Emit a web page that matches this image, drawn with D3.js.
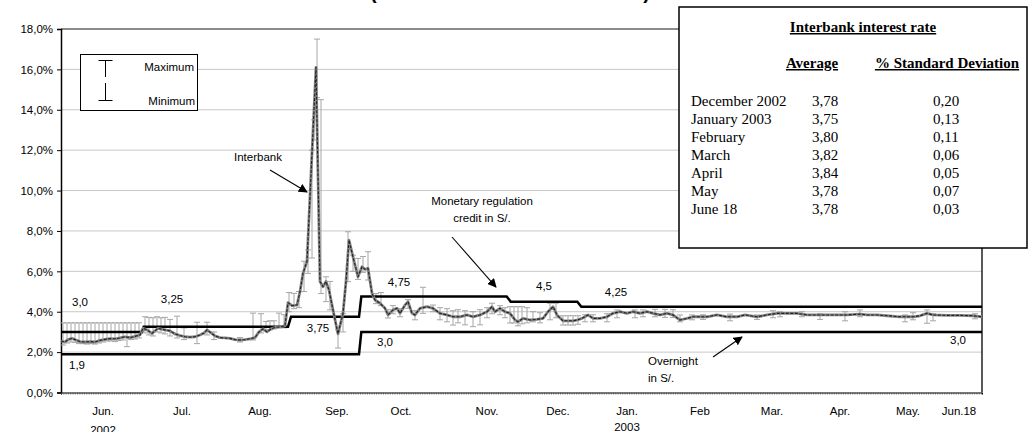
<!DOCTYPE html>
<html><head><meta charset="utf-8">
<script src="https://cdn.jsdelivr.net/npm/d3@7"></script>
<style>body{margin:0;background:#fff}svg{display:block}</style>
</head><body>
<svg id="chart" width="1032" height="432"></svg>
<script>
// ---------- DATA (x in trading-day index, y in %) ----------
const yTickValues = [0,2,4,6,8,10,12,14,16,18];
const monthLabels = ["Jun.","Jul.","Aug.","Sep.","Oct.","Nov.","Dec.","Jan.","Feb","Mar.","Apr.","May.","Jun.18"];
const monthLabelDays = [12.6,36.3,59.7,82.8,102.0,127.8,149.1,169.8,191.7,213.3,233.7,254.1,269.4];
const yearLabels = ["2002","2003"];
const yearLabelDays = [12.6,169.8];

const avgDays = [0,1.2,2.1,3.3,4.5,5.7,7.2,8.7,10.2,11.7,13.2,14.7,16.2,17.7,19.2,20.7,22.2,23.7,24.6,25.8,27.3,29.1,31.2,32.7,34.2,35.7,37.2,38.7,40.2,41.7,42.9,43.8,45.0,46.2,47.7,49.2,50.7,52.2,53.7,55.2,56.7,58.2,59.4,60.6,61.8,63.0,64.2,65.7,67.2,68.1,69.3,70.8,71.7,72.6,73.8,75.0,76.5,77.7,78.6,79.5,80.4,81.6,83.1,84.6,85.5,86.4,87.6,89.1,90.3,91.2,92.1,93.3,94.2,95.7,97.2,98.1,99.6,100.8,101.7,103.2,104.1,105.3,106.2,107.7,109.8,111.6,113.7,115.8,117.6,119.7,121.8,123.6,125.7,127.8,129.3,130.2,131.7,133.2,134.7,136.2,137.1,138.6,140.7,142.8,144.6,146.1,147.6,148.8,150.6,152.1,153.6,155.1,156.3,158.1,159.6,161.7,163.8,165.6,167.7,169.8,171.6,173.7,175.8,177.6,179.7,181.8,183.6,185.7,187.8,189.6,191.7,193.8,196.8,199.8,202.8,205.2,208.8,211.8,214.8,217.8,220.8,223.8,226.8,229.8,232.8,235.8,239.7,241.8,244.8,247.8,251.7,255.6,257.7,259.8,261.6,265.8,269.7,273.6,276.3];
const avgRates = [2.55,2.5,2.62,2.68,2.6,2.52,2.5,2.52,2.5,2.58,2.63,2.67,2.66,2.7,2.76,2.72,2.78,2.85,3.18,3.1,2.93,3.18,3.1,3.05,2.9,2.82,2.76,2.74,2.76,2.85,2.95,3.1,2.95,2.8,2.72,2.7,2.68,2.62,2.6,2.62,2.66,2.72,3.0,3.15,3.0,3.15,3.22,3.25,3.3,4.45,4.3,4.33,5.0,5.9,6.5,10.8,16.1,5.5,5.24,5.5,5.08,4.09,2.9,3.92,5.5,7.55,6.72,5.73,6.23,6.1,6.15,4.91,4.58,4.42,4.17,3.84,4.09,4.17,3.92,4.33,4.5,3.92,3.84,4.17,4.25,4.17,3.92,3.84,3.75,3.75,3.84,3.75,3.84,4.0,4.25,4.0,4.17,4.0,3.92,3.6,3.5,3.67,3.59,3.62,3.67,4.0,4.25,3.84,3.55,3.55,3.55,3.6,3.67,3.84,3.67,3.67,3.75,3.92,4.0,3.92,4.0,3.92,4.0,3.92,3.84,3.92,3.84,3.59,3.67,3.75,3.75,3.75,3.84,3.75,3.75,3.84,3.75,3.84,3.92,3.92,3.92,3.84,3.84,3.84,3.84,3.84,3.88,3.84,3.84,3.8,3.75,3.75,3.8,3.92,3.84,3.82,3.82,3.8,3.75];

const barDays = [0.6,1.8,3.0,4.2,5.4,6.6,7.8,9.0,10.2,11.4,12.6,13.8,15.0,16.2,17.4,18.6,19.8,21.0,22.2,23.4,25.2,26.4,27.6,28.8,30.0,31.2,32.7,34.8,36.9,40.8,43.8,45.9,53.7,57.6,60.0,61.5,62.7,63.9,65.4,66.9,68.4,69.9,71.4,72.9,74.1,75.3,75.9,76.8,78.0,79.5,80.7,83.1,84.6,86.1,87.6,89.1,90.6,92.1,94.5,96.0,98.1,99.6,101.7,104.1,106.2,108.6,111.6,113.7,115.8,117.6,119.1,121.2,123.6,125.7,127.8,129.3,131.7,133.2,134.7,135.9,137.1,138.3,139.8,141.6,143.7,146.7,148.5,150.6,152.1,153.6,155.1,157.2,159.6,163.8,166.8,172.2,174.6,178.2,181.2,183.6,185.7,189.3,192.6,200.7,208.8,213.6,215.7,222.3,227.7,235.2,239.7,253.2,255.6,259.8,261.6,274.2];
const barMax = [3.45,3.45,3.45,3.45,3.45,3.45,3.45,3.45,3.45,3.45,3.45,3.45,3.45,3.45,3.45,3.45,3.45,3.45,3.45,3.45,3.75,3.72,3.7,3.75,3.7,3.72,3.62,3.78,3.2,3.48,3.48,3.0,2.72,3.93,3.9,3.52,3.55,3.55,3.93,3.85,4.95,4.91,5.0,6.5,7.06,12.0,13.5,17.5,14.5,5.73,5.5,3.1,3.9,7.96,6.8,6.64,6.73,6.97,4.9,4.95,4.1,4.3,4.15,4.6,4.05,5.21,4.33,4.2,4.15,4.05,4.1,4.05,4.0,4.1,4.2,4.42,4.3,4.2,4.25,4.25,4.25,4.25,4.2,4.0,3.95,4.42,4.42,3.8,3.8,3.8,3.8,3.85,3.85,3.9,4.09,4.09,4.09,4.12,4.12,4.1,3.84,3.84,3.85,3.88,3.84,4.05,4.0,4.0,3.9,4.0,4.09,3.84,3.95,4.09,3.9,3.9];
const barMin = [2.35,2.45,2.5,2.48,2.42,2.42,2.4,2.42,2.4,2.45,2.5,2.55,2.55,2.52,2.58,2.6,2.27,2.62,2.65,2.7,2.95,2.85,2.8,3.0,2.95,2.9,2.8,2.7,2.62,2.42,2.85,2.62,2.5,2.6,2.95,3.05,3.1,3.15,3.2,3.2,4.0,4.15,4.2,5.0,5.9,6.66,12.5,14.6,4.9,4.5,4.09,2.2,3.0,5.49,6.0,5.6,5.95,5.57,4.4,4.3,3.69,3.9,3.75,4.17,3.6,3.92,4.0,3.6,3.5,3.34,3.45,3.35,3.26,3.35,3.7,3.9,3.85,3.7,3.44,3.44,3.3,3.4,3.45,3.5,3.45,3.6,3.7,3.34,3.34,3.34,3.38,3.5,3.5,3.5,3.7,3.7,3.75,3.75,3.72,3.72,3.5,3.6,3.62,3.55,3.62,3.7,3.75,3.75,3.62,3.55,3.75,3.5,3.6,3.43,3.55,3.65];

const creditDays  = [0,24.3,24.8,68.1,69.0,89.4,90.1,133.7,134.9,154.9,156.1,276.3];
const creditRates = [3.0,3.0,3.25,3.25,3.75,3.75,4.75,4.75,4.5,4.5,4.25,4.25];
const overnightDays  = [0,89.4,90.1,276.3];
const overnightRates = [1.9,1.9,3.0,3.0];

const rateLabels = ["3,0","3,25","3,75","4,75","4,5","4,25","3,0","1,9","3,0"];
const rateLabelDays = [5.7,33.3,77.1,101.4,144.9,166.5,97.2,4.8,269.1];
const rateLabelRates = [4.48,4.63,3.19,5.47,5.27,4.98,2.5,1.36,2.6];

const tableTitle = "Interbank interest rate";
const tableHeads = ["Average","% Standard Deviation"];
const tableMonths = ["December 2002","January 2003","February","March","April","May","June 18"];
const tableAvg = ["3,78","3,75","3,80","3,82","3,84","3,78","3,78"];
const tableSd = ["0,20","0,13","0,11","0,06","0,05","0,07","0,03"];

// ---------- DRAWING ----------
const svg = d3.select("#chart");
const SANS = "'Liberation Sans', Arial, sans-serif";
const SERIF = "'Liberation Serif', 'Times New Roman', serif";
const x = d3.scaleLinear().domain([0, 276.3]).range([61, 982]);
const y = d3.scaleLinear().domain([0, 18]).range([392.5, 29]);

svg.append("defs").append("marker")
  .attr("id","arr").attr("viewBox","0 0 10 10").attr("refX",9).attr("refY",5)
  .attr("markerWidth",9).attr("markerHeight",9).attr("orient","auto-start-reverse")
  .attr("markerUnits","userSpaceOnUse")
  .append("path").attr("d","M0,0L10,5L0,10z").attr("fill","#000");

// title, clipped at the top edge as in the source picture
svg.append("text").attr("x", 510).attr("y", -1.5)
  .attr("text-anchor","middle").attr("font-family",SANS).attr("font-weight","bold")
  .attr("font-size",20).attr("textLength",280).attr("lengthAdjust","spacing")
  .text("(June 2002 - June 18 2003)");

// grid
svg.append("g").selectAll("line").data(yTickValues.filter(d=>d>0 && d<18)).join("line")
  .attr("x1",x(0)).attr("x2",x(276.3)).attr("y1",d=>y(d)).attr("y2",d=>y(d))
  .attr("stroke","#c8c8c8").attr("stroke-width",1);
// top border
svg.append("line").attr("x1",x(0)).attr("x2",x(276.3)).attr("y1",y(18)).attr("y2",y(18))
  .attr("stroke","#666").attr("stroke-width",1.3);
// right border
svg.append("line").attr("x1",x(276.3)).attr("x2",x(276.3)).attr("y1",y(18)).attr("y2",y(0))
  .attr("stroke","#000").attr("stroke-width",1.3);

// y axis
const yAxis = d3.axisLeft(y).tickValues(yTickValues).tickSize(4).tickPadding(4)
  .tickFormat(d => d3.format(".1f")(d).replace(".",",") + "%");
const gy = svg.append("g").attr("transform",`translate(${x(0)},0)`).call(yAxis);
gy.select(".domain").attr("stroke","#000").attr("stroke-width",1.5);
gy.selectAll(".tick line").attr("stroke","#000");
gy.selectAll(".tick text").attr("font-family",SANS).attr("font-size",11.5).attr("fill","#000");

// x axis with dense daily ticks
const xAxis = d3.axisBottom(x).tickValues(d3.range(0, 276.31, 0.69)).tickSize(2).tickFormat("");
const gx = svg.append("g").attr("transform",`translate(0,${y(0)})`).call(xAxis);
gx.select(".domain").attr("stroke","#000").attr("stroke-width",1);
gx.selectAll(".tick line").attr("stroke","#444").attr("stroke-width",0.7);

svg.append("g").selectAll("text").data(monthLabels).join("text")
  .attr("x",(d,i)=>x(monthLabelDays[i])).attr("y",415)
  .attr("text-anchor","middle").attr("font-family",SANS).attr("font-size",11.5).attr("fill","#000")
  .text(d=>d);
svg.append("g").selectAll("text").data(yearLabels).join("text")
  .attr("x",(d,i)=>x(yearLabelDays[i])).attr("y",(d,i)=> i===0 ? 434 : 431)
  .attr("text-anchor","middle").attr("font-family",SANS).attr("font-size",11.5).attr("fill","#000")
  .text(d=>d);

// error bars
const eb = svg.append("g").attr("stroke","#a6a6a6").attr("stroke-width",1).attr("fill","none");
barDays.forEach((d,i)=>{
  const cx = x(d);
  eb.append("line").attr("x1",cx).attr("x2",cx).attr("y1",y(barMax[i])).attr("y2",y(barMin[i]));
  eb.append("line").attr("x1",cx-3).attr("x2",cx+3).attr("y1",y(barMax[i])).attr("y2",y(barMax[i]));
  eb.append("line").attr("x1",cx-3).attr("x2",cx+3).attr("y1",y(barMin[i])).attr("y2",y(barMin[i]));
});

// corridor lines
const lineGen = d3.line().x(d=>x(d[0])).y(d=>y(d[1]));
svg.append("path").datum(creditDays.map((d,i)=>[d,creditRates[i]]))
  .attr("d",lineGen).attr("fill","none").attr("stroke","#000").attr("stroke-width",2.5);
svg.append("path").datum(overnightDays.map((d,i)=>[d,overnightRates[i]]))
  .attr("d",lineGen).attr("fill","none").attr("stroke","#000").attr("stroke-width",2.5);

// interbank average line
const avgData = avgDays.map((d,i)=>[d,avgRates[i]]);
svg.append("path").datum(avgData).attr("d",lineGen).attr("fill","none")
  .attr("stroke","#858585").attr("stroke-width",2.8).attr("stroke-linejoin","round");
svg.append("path").datum(avgData).attr("d",lineGen).attr("fill","none")
  .attr("stroke","#222").attr("stroke-width",1.1).attr("stroke-dasharray","3,1.5").attr("stroke-linejoin","round");

// rate labels
svg.append("g").selectAll("text").data(rateLabels).join("text")
  .attr("x",(d,i)=>x(rateLabelDays[i])).attr("y",(d,i)=>y(rateLabelRates[i]))
  .attr("dy","0.35em").attr("text-anchor","middle").attr("font-family",SANS)
  .attr("font-size",11.5).attr("fill","#000").text(d=>d);

// annotations
function note(lines, day, rate, anchor){
  const t = svg.append("text").attr("font-family",SANS).attr("font-size",11.5).attr("fill","#000")
    .attr("text-anchor",anchor);
  lines.forEach((l,i)=> t.append("tspan").attr("x",x(day)).attr("y",y(rate)+i*17).attr("dy","0.35em").text(l));
}
function arrow(d0,r0,d1,r1){
  svg.append("line").attr("x1",x(d0)).attr("y1",y(r0)).attr("x2",x(d1)).attr("y2",y(r1))
    .attr("stroke","#000").attr("stroke-width",1.1).attr("marker-end","url(#arr)");
}
note(["Interbank"], 59.1, 11.67, "middle");
arrow(62.7, 11.02, 73.8, 9.93);
note(["Monetary regulation","credit in S/."], 126.3, 9.48, "middle");
arrow(117.3, 7.70, 130.5, 5.22);
note(["Overnight","in S/."], 176.1, 1.56, "start");
arrow(195.6, 1.76, 204.3, 2.75);

// legend box
const lg = svg.append("g");
lg.append("rect").attr("x",80.5).attr("y",54.5).attr("width",117).attr("height",56)
  .attr("fill","#fff").attr("stroke","#000").attr("stroke-width",1);
const lx = 105.5;
lg.append("line").attr("x1",lx).attr("x2",lx).attr("y1",60.5).attr("y2",77).attr("stroke","#000");
lg.append("line").attr("x1",lx-7).attr("x2",lx+7).attr("y1",60.5).attr("y2",60.5).attr("stroke","#000");
lg.append("line").attr("x1",lx).attr("x2",lx).attr("y1",83).attr("y2",100.5).attr("stroke","#000");
lg.append("line").attr("x1",lx-7).attr("x2",lx+7).attr("y1",100.5).attr("y2",100.5).attr("stroke","#000");
lg.append("text").attr("x",194).attr("y",71).attr("text-anchor","end").attr("font-family",SANS)
  .attr("font-size",11.5).text("Maximum");
lg.append("text").attr("x",195).attr("y",105).attr("text-anchor","end").attr("font-family",SANS)
  .attr("font-size",11.5).text("Minimum");

// table box
const tb = svg.append("g");
tb.append("rect").attr("x",679).attr("y",7).attr("width",348).attr("height",241)
  .attr("fill","#fff").attr("stroke","#000").attr("stroke-width",1.5);
function uText(txt, cx, by, anchor){
  return tb.append("text").attr("x",cx).attr("y",by).attr("text-anchor",anchor)
    .attr("font-family",SERIF).attr("font-size",15).attr("font-weight","bold")
    .attr("text-decoration","underline").text(txt);
}
uText(tableTitle, 863, 32, "middle");
uText(tableHeads[0], 812, 68, "middle");
uText(tableHeads[1], 947, 68, "middle");
tableMonths.forEach((m,i)=>{
  const by = 106 + i*18;
  tb.append("text").attr("x",691).attr("y",by).attr("font-family",SERIF).attr("font-size",15).text(m);
  tb.append("text").attr("x",812).attr("y",by).attr("font-family",SERIF).attr("font-size",15).text(tableAvg[i]);
  tb.append("text").attr("x",933).attr("y",by).attr("font-family",SERIF).attr("font-size",15).text(tableSd[i]);
});
</script>
</body></html>
